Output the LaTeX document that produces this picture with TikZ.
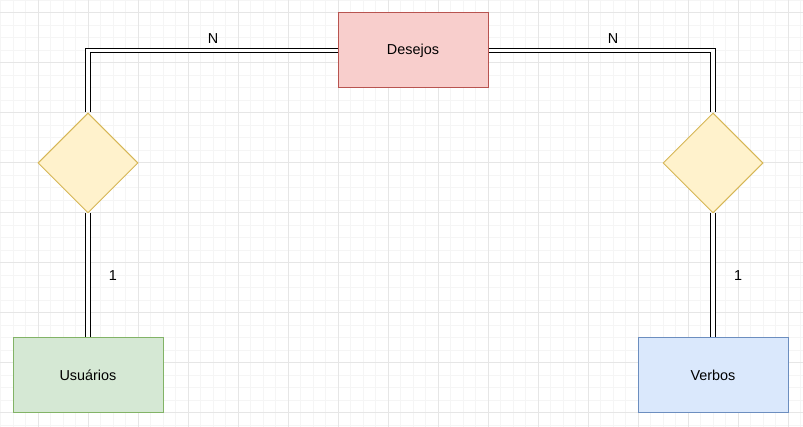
\documentclass[tikz,border=0pt]{standalone}
\usepackage{xcolor}
\usepackage{fontspec}
\setmainfont{Liberation Sans}
\usepackage{tikz}
\usetikzlibrary{shapes.geometric}

\definecolor{gridminor}{HTML}{F5F5F5}
\definecolor{gridmajor}{HTML}{E6E6E6}
\definecolor{redfill}{HTML}{F8CECC}
\definecolor{redline}{HTML}{B85450}
\definecolor{greenfill}{HTML}{D5E8D4}
\definecolor{greenline}{HTML}{82B366}
\definecolor{bluefill}{HTML}{DAE8FC}
\definecolor{blueline}{HTML}{6C8EBF}
\definecolor{yellowfill}{HTML}{FFF2CC}
\definecolor{yellowline}{HTML}{D6B656}

\tikzset{
  entity/.style={draw, line width=0.75pt, minimum width=112.5pt, minimum height=56.25pt, inner sep=0.75pt, font=\fontsize{10.8}{13}\selectfont},
  relation/.style={diamond, draw, line width=0.75pt, aspect=1, minimum size=75pt, inner sep=0pt, fill=yellowfill, draw=yellowline},
  dbl/.style={double, line width=0.8pt, double distance=2.4pt},
  lbl/.style={inner sep=0.75pt, font=\fontsize{10.8}{13}\selectfont}
}

\begin{document}
\begin{tikzpicture}[x=0.75pt,y=0.75pt,yscale=-1,xscale=1]
\useasboundingbox (0,0) rectangle (803,427);
\fill[white] (0,0) rectangle (803,427);

%Grid
\foreach \i in {0,...,64} {
  \draw[gridminor, line width=0.75pt] (0.5+12.5*\i,0) -- (0.5+12.5*\i,427);
}
\foreach \i in {0,...,34} {
  \draw[gridminor, line width=0.75pt] (0,0.5+12.5*\i) -- (803,0.5+12.5*\i);
}
\foreach \i in {0,...,15} {
  \draw[gridmajor, line width=0.75pt] (38+50*\i,0) -- (38+50*\i,427);
}
\foreach \i in {0,...,8} {
  \draw[gridmajor, line width=0.75pt] (0,13+50*\i) -- (803,13+50*\i);
}

% Entities
\node [entity, fill=redfill, draw=redline] (desejos) at (413,50.5) {Desejos};
\node [entity, fill=greenfill, draw=greenline] (usuarios) at (88,375.5) {Usuários};
\node [entity, fill=bluefill, draw=blueline] (verbos) at (713,375.5) {Verbos};

% Relations
\node [relation] (relesq) at (88,163) {};
\node [relation] (reldir) at (713,163) {};

% Connectors
\draw [dbl] (desejos.west) -| (relesq.north);
\draw [dbl] (desejos.east) -| (reldir.north);
\draw [dbl] (relesq.south) -- (usuarios.north);
\draw [dbl] (reldir.south) -- (verbos.north);

% Text Node
\node [lbl] (nesq) at (213,39) {N};
% Text Node
\node [lbl] (ndir) at (613,39) {N};
% Text Node
\node [lbl] (umesq) at (113,276) {1};
% Text Node
\node [lbl] (umdir) at (738,276) {1};

\end{tikzpicture}
\end{document}
